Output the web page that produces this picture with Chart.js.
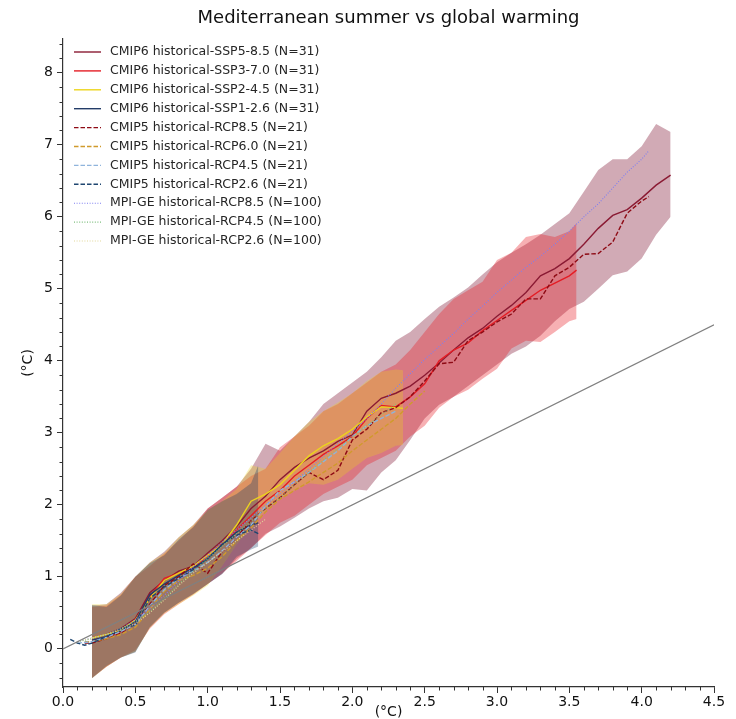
<!DOCTYPE html>
<html>
<head>
<meta charset="utf-8">
<script src="https://cdn.jsdelivr.net/npm/chart.js@4.4.1/dist/chart.umd.min.js"></script>
<style>
  html, body { margin: 0; padding: 0; background: #fff; }
  #wrap { width: 736px; height: 719px; }
</style>
</head>
<body>
<div id="wrap"><canvas id="chart" width="736" height="719"></canvas></div>
<script>
// global warming level (x) per scenario
const gwlSsp585 = [0.2,0.3,0.4,0.5,0.6,0.7,0.8,0.9,1.0,1.1,1.2,1.3,1.4,1.5,1.6,1.7,1.8,1.9,2.0,2.1,2.2,2.3,2.4,2.5,2.6,2.7,2.8,2.9,3.0,3.1,3.2,3.3,3.4,3.5,3.6,3.7,3.8,3.9,4.0,4.1,4.2];
const gwlSsp370 = [0.2,0.3,0.4,0.5,0.6,0.7,0.8,0.9,1.0,1.1,1.2,1.3,1.4,1.5,1.6,1.7,1.8,1.9,2.0,2.1,2.2,2.3,2.4,2.5,2.6,2.7,2.8,2.9,3.0,3.1,3.2,3.3,3.4,3.5,3.55];
const gwlSsp245 = [0.2,0.3,0.4,0.5,0.6,0.7,0.8,0.9,1.0,1.1,1.2,1.3,1.4,1.5,1.6,1.7,1.8,1.9,2.0,2.1,2.2,2.3,2.35];
const gwlSsp126 = [0.2,0.3,0.4,0.5,0.6,0.7,0.8,0.9,1.0,1.1,1.2,1.3,1.35];
const gwlRcp85 = [0.15,0.2,0.3,0.4,0.5,0.6,0.7,0.8,0.9,1.0,1.1,1.2,1.3,1.4,1.5,1.6,1.7,1.8,1.9,2.0,2.1,2.2,2.3,2.4,2.5,2.6,2.7,2.8,2.9,3.0,3.1,3.2,3.3,3.4,3.5,3.6,3.7,3.8,3.9,4.0,4.05];
const gwlRcp60 = [0.15,0.2,0.3,0.4,0.5,0.6,0.7,0.8,0.9,1.0,1.1,1.2,1.3,1.4,1.5,1.6,1.7,1.8,1.9,2.0,2.1,2.2,2.3,2.4,2.5];
const gwlRcp45 = [0.1,0.2,0.3,0.4,0.5,0.6,0.7,0.8,0.9,1.0,1.1,1.2,1.3,1.4,1.5,1.6,1.7,1.8,1.9,2.0,2.1,2.2,2.3];
const gwlRcp26 = [0.05,0.1,0.15,0.2,0.3,0.4,0.5,0.6,0.7,0.8,0.9,1.0,1.1,1.2,1.3,1.35];
const gwlMpi85 = [0.1,0.2,0.3,0.4,0.5,0.6,0.7,0.8,0.9,1.0,1.1,1.2,1.3,1.4,1.5,1.6,1.7,1.8,1.9,2.0,2.1,2.2,2.3,2.4,2.5,2.6,2.7,2.8,2.9,3.0,3.1,3.2,3.3,3.4,3.5,3.6,3.7,3.8,3.9,4.0,4.05];
const gwlMpi45 = [0.1,0.2,0.3,0.4,0.5,0.6,0.7,0.8,0.9,1.0,1.1,1.2,1.3,1.4,1.5,1.6,1.7,1.8,1.9,2.0,2.1,2.2,2.3];
const gwlMpi26 = [0.1,0.2,0.3,0.4,0.5,0.6,0.7,0.8,0.9,1.0,1.1,1.2,1.3,1.4];

// CMIP6 multi-model means
const ssp585Mean = [0.15,0.2,0.28,0.42,0.78,0.95,1.08,1.15,1.33,1.5,1.7,1.95,2.12,2.35,2.52,2.65,2.75,2.88,2.97,3.3,3.48,3.55,3.65,3.8,3.97,4.15,4.32,4.45,4.62,4.77,4.95,5.18,5.28,5.42,5.62,5.84,6.02,6.1,6.26,6.44,6.58];
const ssp370Mean = [0.12,0.16,0.24,0.4,0.72,0.98,1.05,1.12,1.3,1.46,1.65,1.85,2.05,2.2,2.4,2.55,2.7,2.82,2.95,3.2,3.38,3.36,3.5,3.68,4.0,4.15,4.25,4.42,4.56,4.7,4.84,4.98,5.08,5.18,5.26];
const ssp245Mean = [0.15,0.2,0.26,0.4,0.7,0.95,1.05,1.15,1.3,1.45,1.72,2.05,2.15,2.28,2.48,2.68,2.82,2.92,3.05,3.22,3.36,3.35,3.34];
const ssp126Mean = [0.12,0.17,0.25,0.38,0.75,0.9,1.02,1.12,1.25,1.45,1.62,1.72,1.75];

// CMIP6 model spread
const ssp585Upper = [0.6,0.62,0.78,1.0,1.2,1.35,1.55,1.72,1.95,2.1,2.25,2.5,2.85,2.75,2.95,3.15,3.4,3.55,3.7,3.85,4.05,4.28,4.4,4.58,4.75,4.88,5.02,5.2,5.37,5.5,5.62,5.75,5.9,6.05,6.35,6.65,6.8,6.8,6.98,7.29,7.18];
const ssp585Lower = [-0.41,-0.25,-0.12,-0.04,0.3,0.5,0.64,0.76,0.9,1.04,1.25,1.4,1.6,1.7,1.82,1.95,2.05,2.1,2.22,2.2,2.45,2.62,2.9,3.2,3.39,3.5,3.65,3.8,3.95,4.1,4.2,4.35,4.55,4.72,4.82,5.0,5.19,5.24,5.42,5.75,6.0];
const ssp370Upper = [0.58,0.6,0.75,1.0,1.15,1.32,1.5,1.7,1.95,2.1,2.25,2.4,2.5,2.8,2.95,3.1,3.3,3.4,3.55,3.7,3.85,3.95,4.15,4.4,4.65,4.86,4.98,5.1,5.4,5.5,5.72,5.76,5.72,5.8,5.91];
const ssp370Lower = [-0.4,-0.25,-0.12,-0.02,0.28,0.48,0.62,0.75,0.9,1.05,1.22,1.4,1.58,1.75,1.85,2.0,2.15,2.25,2.35,2.55,2.65,2.75,2.95,3.1,3.35,3.5,3.6,3.75,3.89,4.17,4.28,4.26,4.4,4.55,4.58];
const ssp245Upper = [0.62,0.62,0.76,1.0,1.2,1.33,1.55,1.72,1.92,2.05,2.22,2.55,2.5,2.72,2.95,3.15,3.3,3.42,3.55,3.72,3.85,3.88,3.87];
const ssp245Lower = [-0.41,-0.25,-0.12,-0.04,0.29,0.49,0.62,0.74,0.88,1.15,1.45,1.7,1.92,2.08,2.2,2.3,2.28,2.35,2.5,2.65,2.72,2.82,2.83];
const ssp126Upper = [0.61,0.58,0.74,1.0,1.19,1.3,1.52,1.69,1.93,2.05,2.15,2.3,2.55];
const ssp126Lower = [-0.41,-0.24,-0.12,-0.05,0.3,0.5,0.64,0.76,0.9,1.04,1.28,1.38,1.42];

// CMIP5 means
const rcp85Mean = [0.08,0.08,0.14,0.22,0.35,0.62,0.88,1.0,1.18,1.05,1.35,1.55,1.78,1.95,2.1,2.28,2.45,2.35,2.48,2.9,3.05,3.28,3.35,3.5,3.72,3.96,3.98,4.28,4.4,4.54,4.65,4.86,4.86,5.18,5.3,5.48,5.49,5.65,6.05,6.22,6.28];
const rcp60Mean = [0.1,0.1,0.14,0.2,0.3,0.55,0.8,0.95,1.02,1.12,1.28,1.5,1.68,1.9,2.08,2.2,2.32,2.45,2.58,2.75,2.9,3.05,3.2,3.4,3.58];
const rcp45Mean = [0.08,0.1,0.16,0.24,0.34,0.6,0.82,0.98,1.08,1.2,1.36,1.55,1.72,1.98,2.2,2.32,2.45,2.6,2.75,2.95,3.1,3.2,3.3];
const rcp26Mean = [0.13,0.08,0.05,0.08,0.17,0.28,0.33,0.7,0.86,0.98,1.1,1.25,1.45,1.58,1.65,1.6];

// MPI-GE ensemble means
const mpi85Mean = [0.1,0.15,0.2,0.28,0.4,0.56,0.74,0.94,1.14,1.3,1.48,1.65,1.82,2.0,2.15,2.32,2.5,2.67,2.85,3.02,3.2,3.4,3.62,3.82,4.02,4.2,4.38,4.58,4.76,4.95,5.12,5.3,5.45,5.62,5.8,6.0,6.18,6.4,6.62,6.8,6.92];
const mpi45Mean = [0.1,0.14,0.2,0.28,0.38,0.52,0.7,0.9,1.08,1.25,1.42,1.6,1.77,1.95,2.1,2.28,2.45,2.62,2.78,2.95,3.1,3.25,3.4];
const mpi26Mean = [0.1,0.15,0.2,0.26,0.35,0.5,0.68,0.88,1.05,1.2,1.35,1.5,1.65,1.8];

// 1:1 reference line
const refX = [0, 4.5];
const refY = [0, 4.5];

const xTickValues = [0, 0.5, 1.0, 1.5, 2.0, 2.5, 3.0, 3.5, 4.0, 4.5];
const yTickValues = [0, 1, 2, 3, 4, 5, 6, 7, 8];

const chartTitle = "Mediterranean summer vs global warming";
const seriesNames = [
  "CMIP6 historical-SSP5-8.5 (N=31)",
  "CMIP6 historical-SSP3-7.0 (N=31)",
  "CMIP6 historical-SSP2-4.5 (N=31)",
  "CMIP6 historical-SSP1-2.6 (N=31)",
  "CMIP5 historical-RCP8.5 (N=21)",
  "CMIP5 historical-RCP6.0 (N=21)",
  "CMIP5 historical-RCP4.5 (N=21)",
  "CMIP5 historical-RCP2.6 (N=21)",
  "MPI-GE historical-RCP8.5 (N=100)",
  "MPI-GE historical-RCP4.5 (N=100)",
  "MPI-GE historical-RCP2.6 (N=100)"
];

const pts = (xs, ys) => xs.map((x, i) => ({ x: x, y: ys[i] }));

const DASHED = [4.5, 2];
const DOTTED = [1, 1.6];

// line series, in legend order
const lineSeries = [
  { data: pts(gwlSsp585, ssp585Mean), color: "#8a1a33", dash: [], width: 1.4 },
  { data: pts(gwlSsp370, ssp370Mean), color: "#e41d25", dash: [], width: 1.4 },
  { data: pts(gwlSsp245, ssp245Mean), color: "#ecd51c", dash: [], width: 1.4 },
  { data: pts(gwlSsp126, ssp126Mean), color: "#233c68", dash: [], width: 1.4 },
  { data: pts(gwlRcp85, rcp85Mean), color: "#8e0a14", dash: DASHED, width: 1.4 },
  { data: pts(gwlRcp60, rcp60Mean), color: "#d09a2c", dash: DASHED, width: 1.4 },
  { data: pts(gwlRcp45, rcp45Mean), color: "#8fb4dc", dash: DASHED, width: 1.4 },
  { data: pts(gwlRcp26, rcp26Mean), color: "#1f4670", dash: DASHED, width: 1.4 },
  { data: pts(gwlMpi85, mpi85Mean), color: "#7f7ff0", dash: DOTTED, width: 1.1 },
  { data: pts(gwlMpi45, mpi45Mean), color: "#7fbf7f", dash: DOTTED, width: 1.1 },
  { data: pts(gwlMpi26, mpi26Mean), color: "#e2d89a", dash: DOTTED, width: 1.1 }
];

// bands, top one first
const bandSeries = [
  { xs: gwlSsp126, hi: ssp126Upper, lo: ssp126Lower, fill: "rgba(23,60,102,0.32)" },
  { xs: gwlSsp245, hi: ssp245Upper, lo: ssp245Lower, fill: "rgba(236,213,28,0.3)" },
  { xs: gwlSsp370, hi: ssp370Upper, lo: ssp370Lower, fill: "rgba(231,29,37,0.35)" },
  { xs: gwlSsp585, hi: ssp585Upper, lo: ssp585Lower, fill: "rgba(128,20,50,0.36)" }
];

const datasets = [];
datasets.push({
  data: pts(refX, refY), borderColor: "#808080", borderWidth: 1.2,
  pointRadius: 0, fill: false, tension: 0
});
// reverse so the first legend entry ends up under the others
lineSeries.slice().reverse().forEach(s => {
  datasets.push({
    data: s.data, borderColor: s.color, borderWidth: s.width, borderDash: s.dash,
    pointRadius: 0, fill: false, tension: 0
  });
});
bandSeries.forEach(b => {
  datasets.push({
    data: pts(b.xs, b.hi), borderWidth: 0, borderColor: "rgba(0,0,0,0)",
    backgroundColor: b.fill, pointRadius: 0, fill: "+1", tension: 0
  });
  datasets.push({
    data: pts(b.xs, b.lo), borderWidth: 0, borderColor: "rgba(0,0,0,0)",
    pointRadius: 0, fill: false, tension: 0
  });
});

const AXIS = "#333333";

// title, minor ticks, legend box
const extras = {
  id: "extras",
  afterDraw(chart) {
    const ctx = chart.ctx;
    const xs = chart.scales.x, ys = chart.scales.y;
    const area = chart.chartArea;
    ctx.save();

    ctx.font = "18px 'DejaVu Sans'";
    ctx.fillStyle = "#111";
    ctx.textAlign = "center";
    ctx.textBaseline = "middle";
    ctx.fillText(chartTitle, (area.left + area.right) / 2, 18);
    ctx.textAlign = "left";

    ctx.strokeStyle = AXIS;
    ctx.lineWidth = 1;
    for (let k = 0; k <= 45; k++) {
      if (k % 5 === 0) continue;
      const px = Math.round(xs.getPixelForValue(k / 10)) + 0.5;
      ctx.beginPath(); ctx.moveTo(px, area.bottom); ctx.lineTo(px, area.bottom + 3.5); ctx.stroke();
    }
    for (let k = -2; k <= 42; k++) {
      if (k % 5 === 0) continue;
      const v = k / 5;
      if (v < ys.min || v > ys.max) continue;
      const py = Math.round(ys.getPixelForValue(v)) + 0.5;
      ctx.beginPath(); ctx.moveTo(area.left, py); ctx.lineTo(area.left - 3.5, py); ctx.stroke();
    }

    // legend
    ctx.font = "12.5px 'DejaVu Sans'";
    ctx.textBaseline = "middle";
    ctx.fillStyle = "#262626";
    seriesNames.forEach((name, i) => {
      const s = lineSeries[i];
      const y = 52 + i * 18.9;
      ctx.strokeStyle = s.color;
      ctx.lineWidth = s.width;
      ctx.setLineDash(s.dash);
      ctx.beginPath(); ctx.moveTo(74, y); ctx.lineTo(101, y); ctx.stroke();
      ctx.setLineDash([]);
      ctx.fillText(name, 110, y);
    });
    ctx.restore();
  }
};

new Chart(document.getElementById("chart"), {
  type: "line",
  data: { datasets: datasets },
  plugins: [extras],
  options: {
    responsive: false,
    animation: false,
    devicePixelRatio: 1,
    layout: { padding: { left: 0, right: 22, top: 39, bottom: 0 } },
    plugins: {
      legend: { display: false },
      tooltip: { enabled: false },
      title: { display: false },
      filler: { propagate: false }
    },
    scales: {
      x: {
        type: "linear",
        min: 0, max: 4.5,
        afterBuildTicks: s => { s.ticks = xTickValues.map(v => ({ value: v })); },
        afterFit: s => { s.height = 32; },
        ticks: {
          color: "#111",
          font: { family: "'DejaVu Sans'", size: 14 },
          padding: 1,
          maxRotation: 0,
          autoSkip: false,
          callback: v => Number(v).toFixed(1)
        },
        grid: { drawOnChartArea: false, drawTicks: true, tickLength: 6, tickColor: AXIS, tickWidth: 1 },
        border: { display: true, color: AXIS, width: 1.2 },
        title: {
          display: true, text: "(°C)", color: "#111",
          font: { family: "'DejaVu Sans'", size: 14 }, padding: { top: 2, bottom: -2 }
        }
      },
      y: {
        type: "linear",
        min: -0.53, max: 8.47,
        afterBuildTicks: s => { s.ticks = yTickValues.map(v => ({ value: v })); },
        afterFit: s => { s.width = 63; },
        ticks: {
          color: "#111",
          font: { family: "'DejaVu Sans'", size: 14 },
          padding: 4,
          autoSkip: false,
          callback: v => String(v)
        },
        grid: { drawOnChartArea: false, drawTicks: true, tickLength: 6, tickColor: AXIS, tickWidth: 1 },
        border: { display: true, color: AXIS, width: 1.2 },
        title: {
          display: true, text: "(°C)", color: "#111",
          font: { family: "'DejaVu Sans'", size: 14 }, padding: { top: 20, bottom: 0 }
        }
      }
    }
  }
});
</script>
</body>
</html>
